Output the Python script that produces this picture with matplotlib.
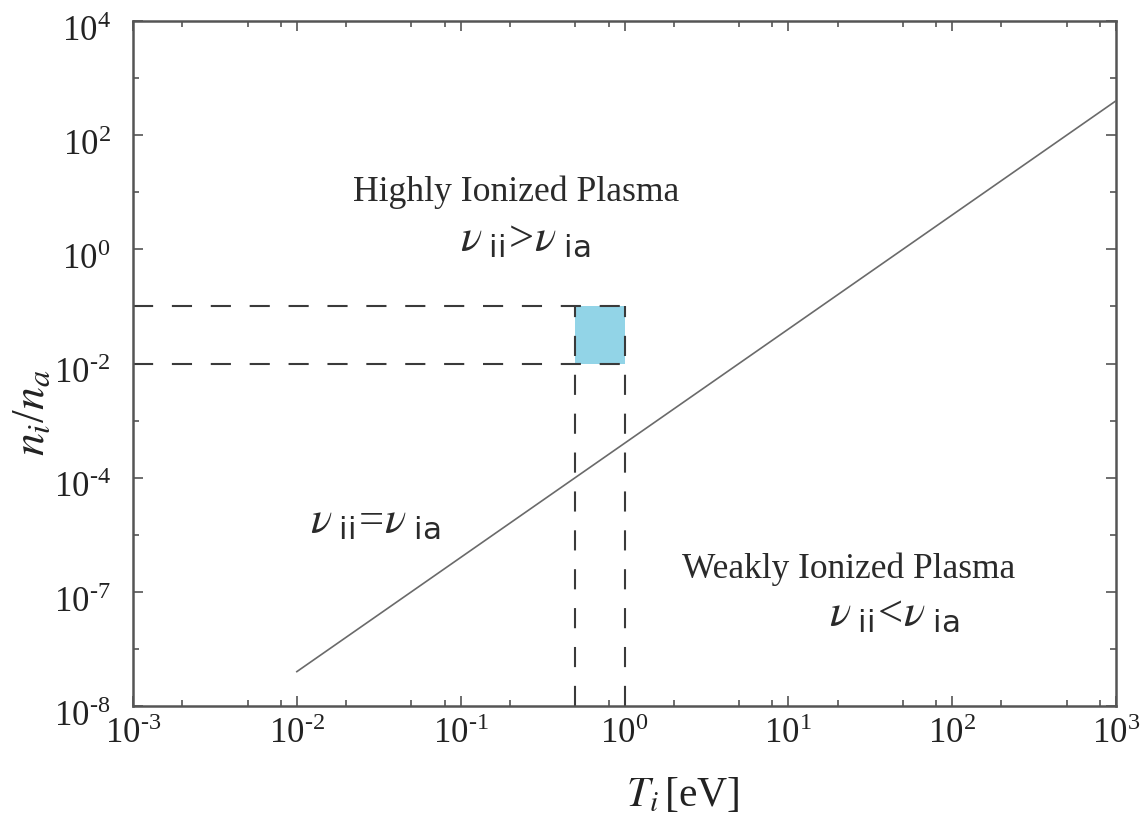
import matplotlib
matplotlib.use("Agg")
import matplotlib.pyplot as plt
import matplotlib.transforms as mtransforms
from matplotlib.ticker import FixedLocator, NullFormatter

plt.rcParams['font.family'] = ['Liberation Serif', 'DejaVu Serif']
plt.rcParams['mathtext.fontset'] = 'custom'
plt.rcParams['mathtext.rm'] = 'Liberation Serif'
plt.rcParams['mathtext.it'] = 'STIXGeneral:italic'
plt.rcParams['mathtext.sf'] = 'DejaVu Sans'
plt.rcParams['lines.scale_dashes'] = False

# ---- data ----
line_T = [1e-2, 1e3]
line_ratio = [4e-8, 4e2]
box_T = [0.5, 1.0]
box_ratio = [0.01, 0.1]
x_ticks = [1e-3, 1e-2, 1e-1, 1e0, 1e1, 1e2, 1e3]
x_ticklabels = [r'$10^{\text{-}3}$', r'$10^{\text{-}2}$', r'$10^{\text{-}1}$', r'$10^{0}$',
                r'$10^{1}$', r'$10^{2}$', r'$10^{3}$']
y_ticks = [1e4, 1e2, 1e0, 1e-2, 1e-4, 1e-6, 1e-8]
y_ticklabels = [r'$10^{4}$', r'$10^{2}$', r'$10^{0}$', r'$10^{\text{-}2}$', r'$10^{\text{-}4}$',
                r'$10^{\text{-}7}$', r'$10^{\text{-}8}$']
y_minor = [1e3, 1e1, 1e-1, 1e-3, 1e-5, 1e-7]
x_minor = [m * 10.0**e for e in range(-3, 3) for m in (2, 5, 8)]

fig = plt.figure(figsize=(11.44, 8.23), dpi=100)
ax = fig.add_axes([133/1144, 1 - 706/823, 983/1144, 685/823])
ax.set_xscale('log')
ax.set_yscale('log')
ax.set_xlim(1e-3, 1e3)
ax.set_ylim(1e-8, 1e4)

# box
ax.fill_between(box_T, box_ratio[0], box_ratio[1], color='#92d4e7', lw=0, zorder=1)
dash = (0, (14.5, 13.5))
dcol = '#3a3a3a'
for yv in box_ratio:
    ax.plot([1e-3, box_T[1]], [yv, yv], color=dcol, lw=1.5, linestyle=dash, zorder=2)
for xv in box_T:
    ax.plot([xv, xv], [1e-8, box_ratio[1]], color=dcol, lw=1.5, linestyle=dash, zorder=2)

# main line
ax.plot(line_T, line_ratio, color='#6a6a6a', lw=1.2, zorder=3)

# ticks
ax.xaxis.set_major_locator(FixedLocator(x_ticks))
ax.set_xticklabels(x_ticklabels)
ax.xaxis.set_minor_locator(FixedLocator(x_minor))
ax.xaxis.set_minor_formatter(NullFormatter())
ax.yaxis.set_major_locator(FixedLocator(y_ticks))
ax.set_yticklabels(y_ticklabels)
ax.yaxis.set_minor_locator(FixedLocator(y_minor))
ax.yaxis.set_minor_formatter(NullFormatter())

spc = '#555555'
for s in ax.spines.values():
    s.set_color(spc)
    s.set_linewidth(1.8)
ax.tick_params(which='both', direction='in', top=True, right=True, color=spc, width=1.2)
ax.tick_params(which='major', length=7, labelsize=25, labelcolor='#222222')
ax.tick_params(which='minor', length=4)
ax.tick_params(axis='x', which='major', pad=8)
ax.tick_params(axis='y', which='major', pad=16)

off = mtransforms.ScaledTranslation(0, -7/100, fig.dpi_scale_trans)
for lab in ax.get_yticklabels():
    lab.set_transform(lab.get_transform() + off)

ax.set_xlabel(r'$T_i\,$[eV]', fontsize=30, color='#222222')
ax.xaxis.label.set_va('center')
ax.xaxis.set_label_coords(0.5595, -0.130)
ax.set_ylabel(r'$n_i/n_a$', fontsize=33, color='#222222')
ax.yaxis.label.set_va('center')
ax.yaxis.set_label_coords(-0.1017, 0.428)

tc = '#2a2a2a'
ax.text(0.390, 0.750, 'Highly Ionized Plasma', transform=ax.transAxes, ha='center', va='center', fontsize=25.7, color=tc)
ax.text(0.399, 0.680, r'$\nu_{\mathsf{\ ii}}\!>\!\nu_{\mathsf{\ ia}}$', transform=ax.transAxes, ha='center', va='center', fontsize=32, color=tc)
ax.text(0.246, 0.269, r'$\nu_{\mathsf{\ ii}}\!=\!\nu_{\mathsf{\ ia}}$', transform=ax.transAxes, ha='center', va='center', fontsize=32, color=tc)
ax.text(0.728, 0.199, 'Weakly Ionized Plasma', transform=ax.transAxes, ha='center', va='center', fontsize=25.5, color=tc)
ax.text(0.774, 0.133, r'$\nu_{\mathsf{\ ii}}\!<\!\nu_{\mathsf{\ ia}}$', transform=ax.transAxes, ha='center', va='center', fontsize=32, color=tc)

fig.savefig('out.png', dpi=100)
